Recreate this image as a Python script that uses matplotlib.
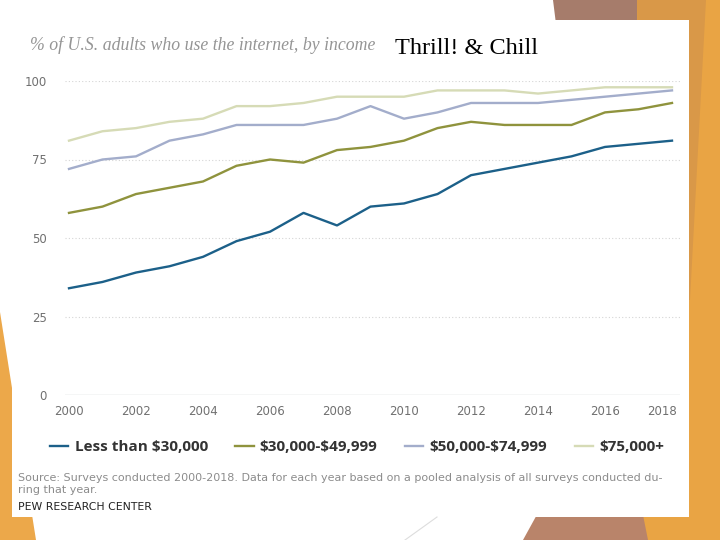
import matplotlib
matplotlib.use("Agg")
import matplotlib.pyplot as plt
from matplotlib.patches import Polygon, Rectangle
from matplotlib.lines import Line2D
import matplotlib.transforms as mtransforms

plt.rcParams["text.parse_math"] = False

years = list(range(2000, 2019))
less_30k = [34, 36, 39, 41, 44, 49, 52, 58, 54, 60, 61, 64, 70, 72, 74, 76, 79, 80, 81]
k30_49 = [58, 60, 64, 66, 68, 73, 75, 74, 78, 79, 81, 85, 87, 86, 86, 86, 90, 91, 93]
k50_74 = [72, 75, 76, 81, 83, 86, 86, 86, 88, 92, 88, 90, 93, 93, 93, 94, 95, 96, 97]
k75_plus = [81, 84, 85, 87, 88, 92, 92, 93, 95, 95, 95, 97, 97, 97, 96, 97, 98, 98, 98]
series_labels = ["Less than $30,000", "$30,000-$49,999", "$50,000-$74,999", "$75,000+"]
series_colors = ["#1c6089", "#8f933d", "#a3adcb", "#d6dbb6"]
x_ticks = list(range(2000, 2019, 2))
y_ticks = [0, 25, 50, 75, 100]

W, H = 720, 540
fig = plt.figure(figsize=(7.2, 5.4), dpi=100)
fig.patch.set_facecolor("white")


def P(pts):
    return [(x / W, 1 - y / H) for x, y in pts]


def poly(pts, color, z=0):
    fig.add_artist(Polygon(P(pts), closed=True, transform=fig.transFigure,
                           facecolor=color, edgecolor="none", zorder=z))

# background slide decoration
poly([(0, 312), (36, 540), (0, 540)], "#eca84a")
poly([(553, 0), (640, 0), (643, 40), (558, 40)], "#a67c6b")
poly([(637, 0), (720, 0), (720, 540), (640, 540)], "#e9a444")
poly([(637, 0), (706, 0), (690, 300), (640, 300)], "#d99848")
poly([(545, 500), (640, 500), (648, 540), (523, 540)], "#b9846a")
fig.add_artist(Line2D([405 / W, 437 / W], [1 - 540 / H, 1 - 517 / H],
                      transform=fig.transFigure, color="#dddddd", lw=0.8))
# white card
fig.add_artist(Rectangle((12 / W, 1 - 517 / H), (689 - 12) / W, (517 - 20) / H,
                         transform=fig.transFigure, facecolor="white",
                         edgecolor="none", zorder=1))

ax = fig.add_axes([65 / W, 1 - 395 / H, 615 / W, 314 / H], zorder=2)
ax.set_facecolor("none")
ax.set_xlim(2000 - 4 / 33.5, 2018 + 8 / 33.5)
ax.set_ylim(0, 100)

for yv in y_ticks:
    if yv == 0:
        ax.axhline(yv, color="#cfd3d6", lw=1.0, zorder=1)
    else:
        ax.axhline(yv, color="#d5d5d5", lw=0.8, ls=(0, (1, 2)), zorder=1)

for vals, lab, col in zip([less_30k, k30_49, k50_74, k75_plus], series_labels, series_colors):
    ax.plot(years, vals, color=col, lw=1.7, label=lab, zorder=3, clip_on=False,
            solid_joinstyle="round")

for s in ax.spines.values():
    s.set_visible(False)
ax.set_yticks(y_ticks)
ax.set_xticks(x_ticks)
ax.tick_params(axis="both", length=0, labelsize=8.5, labelcolor="#707070")
ax.tick_params(axis="y", pad=13)
ax.tick_params(axis="x", pad=7)
for lbl in ax.get_yticklabels() + ax.get_xticklabels():
    lbl.set_fontfamily("DejaVu Sans")
xl = ax.get_xticklabels()
xl[-1].set_transform(xl[-1].get_transform() +
                     mtransforms.ScaledTranslation(-10 / 100, 0, fig.dpi_scale_trans))

# title texts
fig.text(30 / W, 1 - 45 / H, "% of U.S. adults who use the internet, by income",
         fontsize=12.8, style="italic", family="Liberation Serif", color="#959595",
         va="center", ha="left", zorder=3)
fig.text(395 / W, 1 - 49 / H, "Thrill! & Chill", fontsize=17.5,
         family="Liberation Serif", color="black", va="center", ha="left", zorder=3)

leg = fig.legend(*ax.get_legend_handles_labels(), loc="center",
                 bbox_to_anchor=(357 / W, 1 - 447 / H), ncol=4, frameon=False,
                 handlelength=1.2, handletextpad=0.4, columnspacing=1.8,
                 prop={"family": "Open Sans", "weight": "bold", "size": 11})
for t in leg.get_texts():
    t.set_color("#333333")
leg.set_zorder(3)

fig.text(18 / W, 1 - 478 / H,
         "Source: Surveys conducted 2000-2018. Data for each year based on a pooled analysis of all surveys conducted du-",
         fontsize=8, color="#8c8c8c", family="DejaVu Sans", va="center", ha="left", zorder=3)
fig.text(18 / W, 1 - 490 / H, "ring that year.",
         fontsize=8, color="#8c8c8c", family="DejaVu Sans", va="center", ha="left", zorder=3)
fig.text(18 / W, 1 - 507 / H, "PEW RESEARCH CENTER",
         fontsize=7.8, color="#222222", family="DejaVu Sans", va="center", ha="left", zorder=3)

fig.savefig("out.png", dpi=100)
